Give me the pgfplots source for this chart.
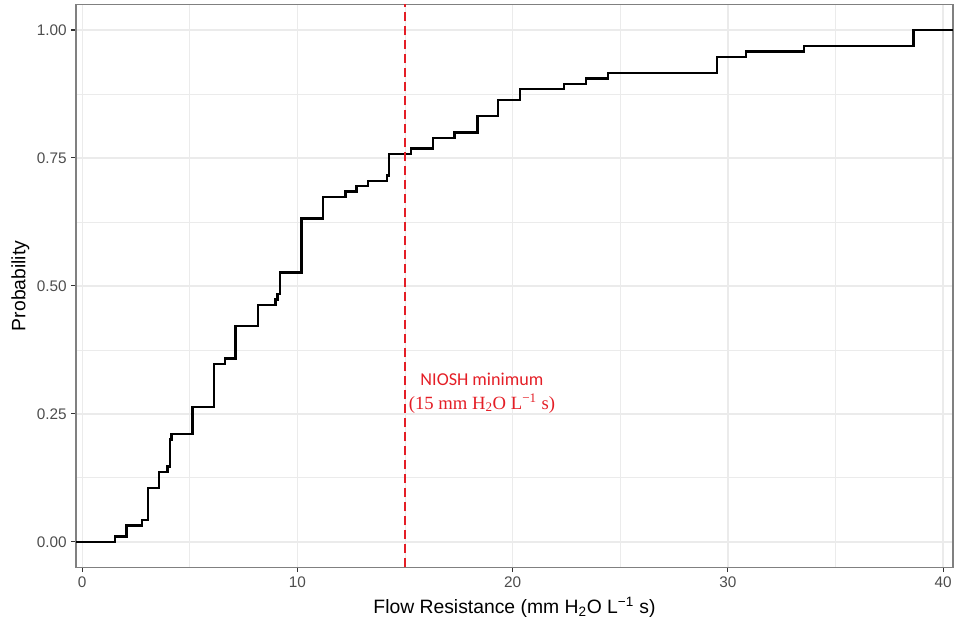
\documentclass[border=0pt]{standalone}
\usepackage{fontspec}
\setmainfont{Liberation Sans}
\newfontfamily\carlito{Carlito}
\newfontfamily\libserif{Liberation Serif}
\usepackage{pgfplots}
\pgfplotsset{compat=1.18}
\usetikzlibrary{calc}
\definecolor{gridc}{HTML}{EBEBEB}
\definecolor{tickc}{HTML}{4D4D4D}
\definecolor{bord}{HTML}{333333}
\definecolor{nioshred}{RGB}{228,30,38}
\pgfplotstableread{
x y
-0.29 0
1.53 0.0105
2.05 0.0316
2.78 0.0421
3.05 0.1053
3.58 0.1368
3.97 0.1474
4.09 0.2000
4.15 0.2105
5.12 0.2632
6.11 0.3474
6.62 0.3579
7.13 0.4211
8.17 0.4632
8.98 0.4737
9.08 0.4842
9.18 0.5263
10.19 0.6316
11.19 0.6737
12.23 0.6842
12.74 0.6947
13.27 0.7053
14.17 0.7158
14.25 0.7579
15.27 0.7684
16.30 0.7895
17.30 0.8000
18.36 0.8316
19.33 0.8632
20.34 0.8842
22.39 0.8947
23.40 0.9053
24.43 0.9158
29.49 0.9474
30.84 0.9579
33.55 0.9684
38.63 1.0000
40.46 1.0000
}\ecdf
\begin{document}
\begin{tikzpicture}
\begin{axis}[
  scale only axis, width=657.75pt, height=422.25pt,
  xmin=-0.29, xmax=40.46, ymin=-0.05, ymax=1.05,
  xtick={0,10,20,30,40}, ytick={0,0.25,0.5,0.75,1},
  minor xtick={5,15,25,35}, minor ytick={0.125,0.375,0.625,0.875},
  grid=both,
  major grid style={gridc, line width=1.1pt},
  minor grid style={gridc, line width=0.55pt},
  axis line style={black!50, line width=0.9pt},
  tick align=outside, major tick length=3.5pt, minor tick length=0pt,
  major tick style={bord, line width=0.8pt},
  xtick pos=lower, ytick pos=left,
  yticklabel style={/pgf/number format/.cd, fixed, fixed zerofill, precision=2},
  /pgf/number format/assume math mode=true,
  ticklabel style={font=\fontsize{11.5}{13}\selectfont, text=tickc},
  xlabel={Flow Resistance (mm H\textsubscript{2}O L\textsuperscript{−1} s)},
  ylabel={Probability},
  label style={font=\fontsize{14.5}{16}\selectfont},
  xlabel style={at={(axis description cs:0.5,-0.0712)}, anchor=center},
  ylabel style={at={(axis description cs:-0.0635,0.5)}, anchor=center},
]
\addplot[const plot, black, line width=1.8pt, line join=miter] table[x=x,y=y] {\ecdf};
\addplot[nioshred, line width=1.5pt, dash pattern=on 6.75pt off 3.75pt] coordinates {(15,-0.05) (15,1.05)};
\node[text=nioshred, align=center, font=\fontsize{13.6}{18}\selectfont] at (axis cs:18.57,0.291)
  {{\carlito NIOSH minimum}\\{\libserif\fontsize{14}{18}\selectfont (15 mm H\textsubscript{2}O L\textsuperscript{−1} s)}};
\end{axis}
\pgfresetboundingbox
\path[use as bounding box] ($(current axis.south west)+(-57pt,-46.8pt)$) rectangle ($(current axis.north east)+(1.5pt,3.3pt)$);
\end{tikzpicture}
\end{document}
